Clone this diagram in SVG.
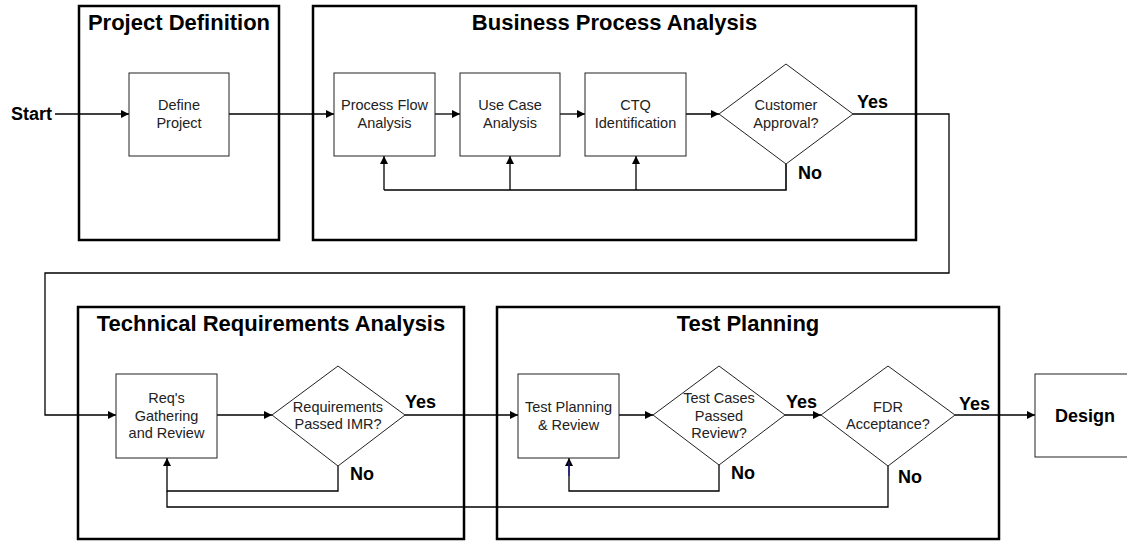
<svg xmlns="http://www.w3.org/2000/svg" width="1127" height="541" viewBox="0 0 1127 541">
  <style>
    .phase { fill: none; stroke: #000; stroke-width: 2.5; }
    .box { fill: #fff; stroke: #222; stroke-width: 1; }
    .title { font-family: "Liberation Sans", Arial, sans-serif; font-size: 22px; font-weight: bold; text-anchor: middle; fill: #000; }
    .lbl { font-family: "Liberation Sans", Arial, sans-serif; font-size: 14.5px; text-anchor: middle; fill: #222; }
    .tag { font-family: "Liberation Sans", Arial, sans-serif; font-size: 18px; font-weight: bold; fill: #000; }
    .wire { fill: none; stroke: #000; stroke-width: 1.3; }
    .loop { fill: none; stroke: #000; stroke-width: 1.6; }
  </style>
  <defs>
    <marker id="arrow" viewBox="0 0 8 8" refX="8" refY="4" markerWidth="8" markerHeight="8" markerUnits="userSpaceOnUse" orient="auto">
      <path d="M0,0 L8,4 L0,8 z" fill="#000"/>
    </marker>
  </defs>

  <rect width="1127" height="541" fill="#fff"/>

  <!-- phase containers -->
  <g id="phase-project-definition">
    <rect class="phase" x="79" y="6" width="200" height="234"/>
    <text class="title" x="179" y="30">Project Definition</text>
  </g>
  <g id="phase-business-process-analysis">
    <rect class="phase" x="313" y="6" width="603" height="234"/>
    <text class="title" x="614.5" y="30">Business Process Analysis</text>
  </g>
  <g id="phase-technical-requirements">
    <rect class="phase" x="78" y="307" width="386" height="232"/>
    <text class="title" x="271" y="331">Technical Requirements Analysis</text>
  </g>
  <g id="phase-test-planning">
    <rect class="phase" x="497" y="307" width="502" height="232"/>
    <text class="title" x="748" y="331">Test Planning</text>
  </g>

  <!-- connectors -->
  <g id="connectors">
    <path class="wire" d="M55,114 H129" marker-end="url(#arrow)"/>
    <path class="wire" d="M229,114 H334" marker-end="url(#arrow)"/>
    <path class="wire" d="M435,114 H460" marker-end="url(#arrow)"/>
    <path class="wire" d="M560,114 H585" marker-end="url(#arrow)"/>
    <path class="wire" d="M686,114 H719" marker-end="url(#arrow)"/>
    <!-- customer approval: no -->
    <path class="loop" d="M786,164 V190 H384"/>
    <path class="wire" d="M384,190 V156" marker-end="url(#arrow)"/>
    <path class="wire" d="M510,190 V156" marker-end="url(#arrow)"/>
    <path class="wire" d="M636,190 V156" marker-end="url(#arrow)"/>
    <!-- customer approval: yes, wraps to the second row -->
    <path class="wire" d="M853,114 H949 V273 H45 V415 H116" marker-end="url(#arrow)"/>
    <path class="wire" d="M217,415 H272" marker-end="url(#arrow)"/>
    <!-- requirements passed: no -->
    <path class="wire" d="M338,466 V491 H167 V458" marker-end="url(#arrow)"/>
    <!-- requirements passed: yes -->
    <path class="wire" d="M405,415 H518" marker-end="url(#arrow)"/>
    <path class="wire" d="M619,415 H653" marker-end="url(#arrow)"/>
    <!-- test cases passed: no -->
    <path class="wire" d="M719,465 V491 H569 V458" marker-end="url(#arrow)"/>
    <path d="M569,476 V462" stroke="#1a1a8c" stroke-width="1.3"/>
    <!-- test cases passed: yes -->
    <path class="wire" d="M785,415 H821" marker-end="url(#arrow)"/>
    <!-- FDR acceptance: no -->
    <path class="wire" d="M888,466 V507 H167 V491"/>
    <!-- FDR acceptance: yes -->
    <path class="wire" d="M955,415 H1035" marker-end="url(#arrow)"/>
  </g>

  <!-- start label -->
  <g id="start">
    <text class="tag" x="11" y="120">Start</text>
  </g>

  <!-- process steps -->
  <g id="define-project">
    <rect class="box" x="129" y="73" width="100" height="83"/>
    <text class="lbl" x="179" y="110">Define</text>
    <text class="lbl" x="179" y="128">Project</text>
  </g>
  <g id="process-flow-analysis">
    <rect class="box" x="334" y="73" width="101" height="83"/>
    <text class="lbl" x="384.5" y="110">Process Flow</text>
    <text class="lbl" x="384.5" y="128">Analysis</text>
  </g>
  <g id="use-case-analysis">
    <rect class="box" x="460" y="73" width="100" height="83"/>
    <text class="lbl" x="510" y="110">Use Case</text>
    <text class="lbl" x="510" y="128">Analysis</text>
  </g>
  <g id="ctq-identification">
    <rect class="box" x="585" y="73" width="101" height="83"/>
    <text class="lbl" x="635.5" y="110">CTQ</text>
    <text class="lbl" x="635.5" y="128">Identification</text>
  </g>
  <g id="customer-approval">
    <polygon class="box" points="786,64 853,114 786,164 719,114"/>
    <text class="lbl" x="786" y="110">Customer</text>
    <text class="lbl" x="786" y="128">Approval?</text>
    <text class="tag" x="857" y="108">Yes</text>
    <text class="tag" x="798" y="179">No</text>
  </g>

  <g id="reqs-gathering">
    <rect class="box" x="116" y="374" width="101" height="84"/>
    <text class="lbl" x="166.5" y="403">Req's</text>
    <text class="lbl" x="166.5" y="420.5">Gathering</text>
    <text class="lbl" x="166.5" y="438">and Review</text>
  </g>
  <g id="requirements-passed">
    <polygon class="box" points="338,366 405,415 338,466 272,415"/>
    <text class="lbl" x="338" y="411.5">Requirements</text>
    <text class="lbl" x="338" y="429">Passed IMR?</text>
    <text class="tag" x="405" y="408">Yes</text>
    <text class="tag" x="350" y="480">No</text>
  </g>

  <g id="test-planning-review">
    <rect class="box" x="518" y="374" width="101" height="84"/>
    <text class="lbl" x="568.5" y="412">Test Planning</text>
    <text class="lbl" x="568.5" y="430">&amp; Review</text>
  </g>
  <g id="test-cases-passed">
    <polygon class="box" points="719,366 785,415 719,465 653,415"/>
    <text class="lbl" x="719" y="402.5">Test Cases</text>
    <text class="lbl" x="719" y="420.5">Passed</text>
    <text class="lbl" x="719" y="438">Review?</text>
    <text class="tag" x="786" y="408">Yes</text>
    <text class="tag" x="731" y="479">No</text>
  </g>
  <g id="fdr-acceptance">
    <polygon class="box" points="888,366 955,415 888,466 821,415"/>
    <text class="lbl" x="888" y="412">FDR</text>
    <text class="lbl" x="888" y="429">Acceptance?</text>
    <text class="tag" x="959" y="410">Yes</text>
    <text class="tag" x="898" y="483">No</text>
  </g>

  <g id="design">
    <rect class="box" x="1035" y="374" width="100" height="83"/>
    <text class="tag" x="1055" y="422">Design</text>
  </g>
</svg>
